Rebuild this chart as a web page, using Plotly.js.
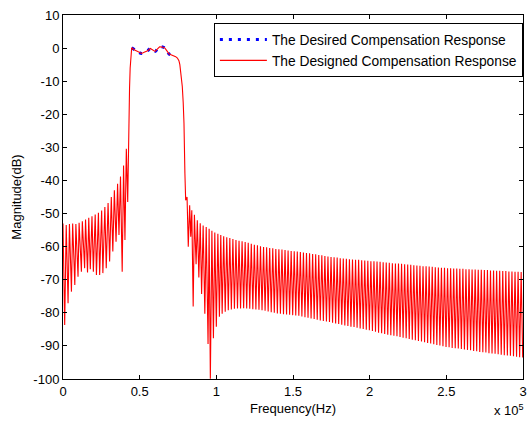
<!DOCTYPE html>
<html>
<head>
<meta charset="utf-8">
<script src="https://cdn.plot.ly/plotly-3.0.1.min.js"></script>
<style>
html,body{margin:0;padding:0;background:#fff;}
#chart{width:530px;height:423px;}
</style>
</head>
<body>
<div id="chart"></div>
<script>
// Frequencies in kHz, magnitudes in dB
var freqLeft = [0,1.1,2.1,3.3,4.2,5.5,6.3,7.7,8.4,9.8,10.5,12.0,12.6,14.1,14.7,16.0,16.8,17.8,18.9,19.8,21.0,21.8,23.1,23.9,25.2,26.0,27.3,28.2,29.4,30.4,31.5,32.5,33.5,34.6,35.6,36.5,37.5,38.6,39.5,40.4,41.3,42.2];
var dbLeft = [-53.0,-83.7,-53.5,-77.1,-53.2,-73.6,-53.0,-71.6,-53.2,-69.1,-52.8,-67.6,-52.3,-66.5,-51.8,-67.8,-51.3,-66.8,-50.8,-67.6,-50.3,-68.6,-49.8,-68.6,-49.1,-68.0,-48.0,-66.5,-46.8,-64.5,-45.0,-61.5,-43.0,-58.5,-41.0,-56.5,-38.8,-67.6,-35.5,-58.0,-30.4,-46.5];

var freqPass = [42.6,42.9,43.4,43.8,44.4,44.8,46.4,48.0,49.7,51.3,53.3,55.2,57.0,58.5,60.0,61.5,63.0,64.8,66.5,67.9,69.2,70.4,71.6,72.6,73.5,74.6,75.6,76.2,76.7,77.3,77.8,78.4,78.9,79.5,80.0];
var dbPass = [-35.0,-21.0,-12.0,-6.0,-0.8,0.1,-0.5,-0.9,-1.4,-1.6,-1.2,-0.8,-0.1,-0.6,-1.0,-0.3,0.4,0.3,0.0,-0.9,-1.8,-2.0,-2.2,-2.4,-2.6,-3.0,-3.8,-5.0,-6.6,-8.8,-11.6,-16.5,-22.7,-37.8,-46.0];

var freqRightNear = [80.9,81.7,82.6,83.3,84.0,84.9,85.7,86.8,87.6,88.6,89.5,90.4,91.4,92.5,93.4,94.6,95.3,96.1,97.1,98.1,99.0,100.0,101.0,102.0,102.9,103.8,104.8,105.8,106.8,107.8,108.8,109.8,110.8,111.8,112.8,113.8];
var dbRightNear = [-45.0,-60.0,-47.5,-57.0,-49.0,-78.1,-50.4,-65.3,-52.0,-69.3,-52.9,-74.3,-53.6,-80.3,-54.1,-89.4,-54.6,-99.9,-55.2,-87.7,-55.7,-84.2,-56.1,-81.2,-56.5,-80.3,-56.9,-79.7,-57.2,-79.2,-57.4,-79.0,-57.7,-78.8,-58.0,-78.7];

var freqRightFar = [114.8,115.8,116.8,117.8,118.8,119.8,120.8,121.8,122.8,123.8,124.8,125.8,126.8,127.8,128.8,129.8,130.8,131.8,132.8,133.8,134.8,135.8,136.8,137.8,138.8,139.8,140.8,141.8,142.8,143.8,144.8,145.8,146.8,147.8,148.8,149.8,150.8,151.8,152.8,153.8,154.8,155.8,156.8,157.8,158.8,159.8,160.8,161.8,162.8,163.8,164.8,165.8,166.8,167.8,168.8,169.8,170.8,171.8,172.8,173.8,174.8,175.8,176.8,177.8,178.8,179.8,180.8,181.8,182.8,183.8,184.8,185.8,186.8,187.8,188.8,189.8,190.8,191.8,192.8,193.8,194.8,195.8,196.8,197.8,198.8,199.8,200.8,201.8,202.8,203.8,204.8,205.8,206.8,207.8,208.8,209.8,210.8,211.8,212.8,213.8,214.8,215.8,216.8,217.8,218.8,219.8,220.8,221.8,222.8,223.8,224.8,225.8,226.8,227.8,228.8,229.8,230.8,231.8,232.8,233.8,234.8,235.8,236.8,237.8,238.8,239.8,240.8,241.8,242.8,243.8,244.8,245.8,246.8,247.8,248.8,249.8,250.8,251.8,252.8,253.8,254.8,255.8,256.8,257.8,258.8,259.8,260.8,261.8,262.8,263.8,264.8,265.8,266.8,267.8,268.8,269.8,270.8,271.8,272.8,273.8,274.8,275.8,276.8,277.8,278.8,279.8,280.8,281.8,282.8,283.8,284.8,285.8,286.8,287.8,288.8,289.8,290.8,291.8,292.8,293.8,294.8,295.8,296.8,297.8,298.8,299.8];
var dbRightFar = [-58.2,-78.7,-58.4,-78.6,-58.6,-78.7,-58.8,-78.8,-59.1,-78.9,-59.4,-79.0,-59.6,-79.1,-59.9,-79.2,-60.1,-79.4,-60.2,-79.6,-60.4,-79.8,-60.5,-80.0,-60.7,-80.2,-60.8,-80.3,-60.9,-80.4,-61.0,-80.5,-61.2,-80.6,-61.3,-80.7,-61.4,-80.8,-61.5,-80.9,-61.6,-81.1,-61.8,-81.3,-61.9,-81.5,-62.0,-81.7,-62.2,-81.9,-62.3,-82.1,-62.5,-82.3,-62.6,-82.5,-62.8,-82.6,-63.0,-82.8,-63.1,-83.0,-63.2,-83.2,-63.3,-83.4,-63.5,-83.6,-63.6,-83.8,-63.7,-84.0,-63.8,-84.2,-63.9,-84.3,-64.0,-84.5,-64.0,-84.7,-64.1,-84.9,-64.2,-85.1,-64.3,-85.3,-64.4,-85.5,-64.4,-85.7,-64.5,-86.0,-64.6,-86.2,-64.7,-86.4,-64.8,-86.6,-64.9,-86.8,-65.0,-86.9,-65.1,-87.1,-65.1,-87.3,-65.2,-87.5,-65.3,-87.7,-65.4,-87.9,-65.5,-88.1,-65.6,-88.3,-65.7,-88.5,-65.8,-88.7,-65.9,-88.9,-65.9,-89.1,-66.0,-89.3,-66.1,-89.5,-66.2,-89.7,-66.3,-89.9,-66.4,-90.1,-66.4,-90.3,-66.5,-90.4,-66.5,-90.6,-66.6,-90.7,-66.6,-90.8,-66.7,-90.9,-66.7,-91.1,-66.8,-91.2,-66.8,-91.3,-66.9,-91.5,-66.9,-91.6,-67.0,-91.8,-67.0,-91.9,-67.1,-92.0,-67.1,-92.2,-67.2,-92.3,-67.2,-92.4,-67.3,-92.5,-67.3,-92.7,-67.4,-92.8,-67.4,-92.9,-67.5,-93.0,-67.5,-93.1,-67.6,-93.3,-67.6,-93.4,-67.7,-93.5];

var desiredFreq = [44.8,48.0,51.3,55.2,57.0,60.0,63.0,66.5,69.2,71.6,73.5];
var desiredDb = [0.1,-0.9,-1.6,-0.8,-0.1,-1.0,0.4,0.0,-1.8,-2.2,-2.6];

var xTickVals = [0,50,100,150,200,250,300];
var xTickText = ['0','0.5','1','1.5','2','2.5','3'];
var yTickVals = [10,0,-10,-20,-30,-40,-50,-60,-70,-80,-90,-100];
var yTickText = ['10','0','-10','-20','-30','-40','-50','-60','-70','-80','-90','-100'];

var designedX = freqLeft.concat(freqPass, freqRightNear, freqRightFar);
var designedY = dbLeft.concat(dbPass, dbRightNear, dbRightFar);

var font = {family:'Liberation Sans, Arial, sans-serif', size:13, color:'#000'};
var legendFont = {family:'Liberation Sans, Arial, sans-serif', size:13.8, color:'#000'};

var traces = [
  {x:desiredFreq, y:desiredDb, type:'scatter', mode:'lines', name:'The Desired Compensation Response',
   line:{color:'#0000ff', width:3, dash:'3px,6px', shape:'spline'}},
  {x:designedX, y:designedY, type:'scatter', mode:'lines', name:'The Designed Compensation Response',
   line:{color:'#ff0000', width:1.1}}
];

var axisCommon = {showgrid:false, zeroline:false, showline:true, linecolor:'#000', linewidth:1,
  mirror:'ticks', ticks:'inside', ticklen:4, tickwidth:1, tickcolor:'#000', tickfont:font, tickmode:'array'};

var layout = {
  width:530, height:423,
  margin:{l:63, r:7, t:15, b:44},
  paper_bgcolor:'#fff', plot_bgcolor:'#fff',
  font:font,
  showlegend:true,
  legend:{x:0.328, y:0.978, xanchor:'left', yanchor:'top', bgcolor:'#fff', bordercolor:'#000', borderwidth:1,
          font:legendFont, tracegroupgap:0, itemwidth:47},
  xaxis:Object.assign({}, axisCommon, {range:[0,300], tickvals:xTickVals, ticktext:xTickText,
          title:{text:'Frequency(Hz)', font:font, standoff:6}}),
  yaxis:Object.assign({}, axisCommon, {range:[-100,10], tickvals:yTickVals, ticktext:yTickText,
          title:{text:'Magnitude(dB)', font:font, standoff:8}}),
  annotations:[{xref:'paper', yref:'paper', x:1.006, y:-0.058, xanchor:'right', yanchor:'top',
    text:'x 10<sup>5</sup>', showarrow:false, font:font}]
};

Plotly.newPlot('chart', traces, layout, {displayModeBar:false, staticPlot:true});
</script>
</body>
</html>
